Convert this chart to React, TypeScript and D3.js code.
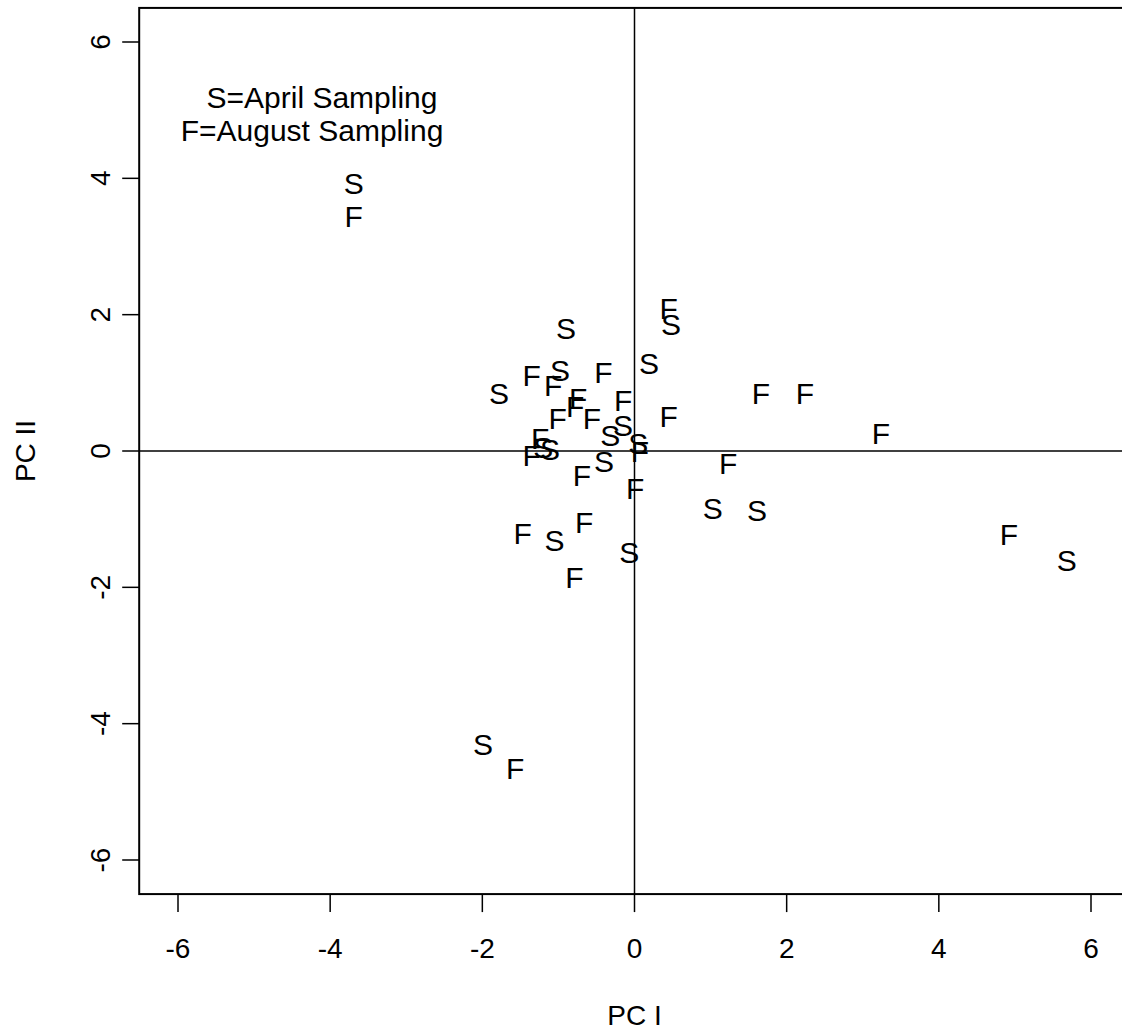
import React from "react";
import * as d3 from "d3";

const sX = [-3.69, 0.48, -0.9, 0.19, -0.98, -1.78, -0.15, -0.32, -1.2, -1.11, 0.05, -0.4, 1.03, 1.61, 5.68, -1.05, -0.07, -1.99];
const sY = [3.93, 1.86, 1.8, 1.29, 1.19, 0.85, 0.38, 0.23, 0.06, 0.03, 0.12, -0.15, -0.84, -0.87, -1.61, -1.31, -1.48, -4.31];
const fX = [-3.69, 0.45, -1.35, -0.41, -1.07, -0.74, -0.78, 1.66, 2.24, -0.15, -1.01, -0.56, 0.45, 3.24, -1.24, -1.35, 0.07, -0.69, 0.01, 1.23, 4.92, -1.47, -0.66, -0.79, -1.57];
const fY = [3.45, 2.1, 1.11, 1.16, 0.97, 0.78, 0.65, 0.85, 0.85, 0.75, 0.48, 0.48, 0.51, 0.26, 0.19, -0.06, 0.0, -0.35, -0.54, -0.18, -1.22, -1.2, -1.04, -1.85, -4.65];
const ticks = [-6, -4, -2, 0, 2, 4, 6];
const legendLines = ["S=April Sampling", "F=August Sampling"];

export default function App() {
  const x = d3.scaleLinear().domain([-6, 6]).range([178, 1091]);
  const y = d3.scaleLinear().domain([-6, 6]).range([860, 42]);
  const font = "'Liberation Sans', Arial, sans-serif";
  const fs = 30;
  const fa = 28;
  const x0 = x(-6.51), x1 = x(6.5), y0 = y(6.5), y1 = y(-6.5);
  const pts = [
    ...sX.map((v, i) => ({ l: "S", x: v, y: sY[i] })),
    ...fX.map((v, i) => ({ l: "F", x: v, y: fY[i] })),
  ];
  return (
    <svg width={1122} height={1034} style={{ position: "absolute", left: 0, top: 0, background: "#fff" }} fontFamily={font}>
      <rect x={0} y={0} width={1122} height={1034} fill="#fff" />
      <rect x={x0} y={y0} width={x1 - x0} height={y1 - y0} fill="none" stroke="#000" strokeWidth={2} />
      <line x1={x0} x2={x1} y1={y(0)} y2={y(0)} stroke="#000" strokeWidth={1.5} />
      <line x1={x(0)} x2={x(0)} y1={y0} y2={y1} stroke="#000" strokeWidth={1.5} />
      {ticks.map((t) => (
        <g key={"x" + t}>
          <line x1={x(t)} x2={x(t)} y1={y1} y2={y1 + 18} stroke="#000" strokeWidth={1.5} />
          <text x={x(t)} y={958} textAnchor="middle" fontSize={fa}>{t}</text>
        </g>
      ))}
      {ticks.map((t) => (
        <g key={"y" + t}>
          <line x1={x0} x2={x0 - 17} y1={y(t)} y2={y(t)} stroke="#000" strokeWidth={1.5} />
          <text transform={`translate(110,${y(t)}) rotate(-90)`} textAnchor="middle" fontSize={fa}>{t}</text>
        </g>
      ))}
      <text x={x(0)} y={1025} textAnchor="middle" fontSize={fa}>PC I</text>
      <text transform={`translate(35,${y(0)}) rotate(-90)`} textAnchor="middle" fontSize={fa}>PC II</text>
      {legendLines.map((s, i) => (
        <text key={s} x={i === 0 ? 322 : 312} y={108 + i * 33} textAnchor="middle" fontSize={fs}>{s}</text>
      ))}
      {pts.map((p, i) => (
        <text key={i} x={x(p.x)} y={y(p.y) + 10.7} textAnchor="middle" fontSize={fs}>{p.l}</text>
      ))}
    </svg>
  );
}
